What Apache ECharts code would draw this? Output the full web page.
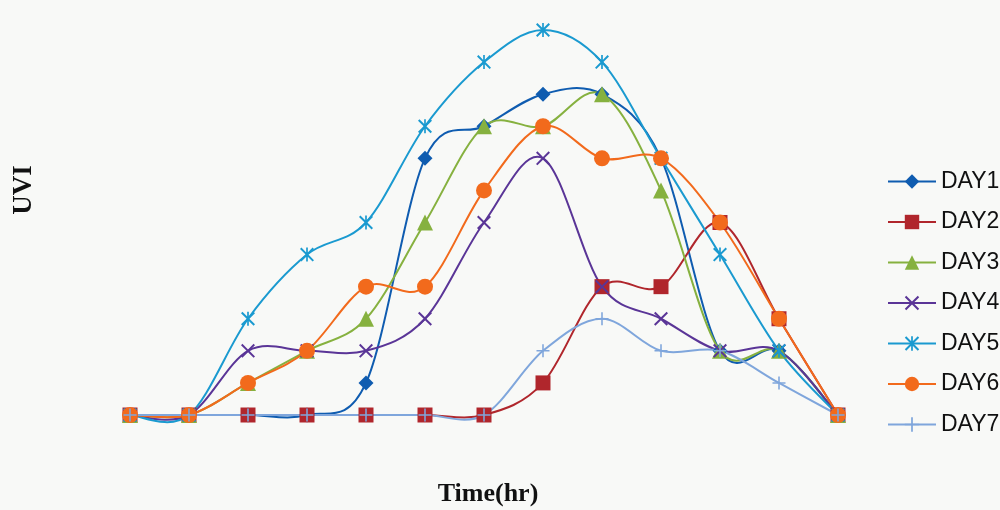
<!DOCTYPE html>
<html><head><meta charset="utf-8">
<script src="https://cdn.jsdelivr.net/npm/echarts@6/dist/echarts.min.js"></script>
<style>html,body{margin:0;padding:0;background:#f8f9f7}#c{width:1000px;height:510px}</style>
</head><body><div id="c"></div>
<script>
const hours = ['1','2','3','4','5','6','7','8','9','10','11','12','13'];
const day1 = [0,0,0,0,1,8,9,10,10,8,2,2,0];
const day2 = [0,0,0,0,0,0,0,1,4,4,6,3,0];
const day3 = [0,0,1,2,3,6,9,9,10,7,2,2,0];
const day4 = [0,0,2,2,2,3,6,8,4,3,2,2,0];
const day5 = [0,0,3,5,6,9,11,12,11,8,5,2,0];
const day6 = [0,0,1,2,4,4,7,9,8,8,6,3,0];
const day7 = [0,0,0,0,0,0,0,2,3,2,2,1,0];
const names = ['DAY1','DAY2','DAY3','DAY4','DAY5','DAY6','DAY7'];
const colors = ['#0f5cb0','#b0262c','#86b13f','#5a3597','#1a9ad0','#f26a1c','#7fa6dc'];
const X = 'path://M1,0L5,4L9,0L10,1L6,5L10,9L9,10L5,6L1,10L0,9L4,5L0,1Z';
const AST = 'path://M1,0L5,4L9,0L10,1L6,5L10,9L9,10L5,6L1,10L0,9L4,5L0,1Z M4.4,0H5.6V10H4.4Z';
const PLUS = 'path://M4.4,0H5.6V4.4H10V5.6H5.6V10H4.4V5.6H0V4.4H4.4Z';
const symbols = ['diamond','rect','triangle',X,AST,'circle',PLUS];
const sizes = [15,15,16,14,14,16,13];
const data = [day1,day2,day3,day4,day5,day6,day7];

function makeRender(arr, color){
  const n = arr.length;
  return function(params, api){
    const i = params.dataIndex;
    if (i >= n - 1) return null;
    const P = k => { const j = Math.max(0, Math.min(n - 1, k)); return api.coord([j, arr[j]]); };
    const p0 = P(i - 1), p1 = P(i), p2 = P(i + 1), p3 = P(i + 2);
    const t = 1 / 6;
    return {
      type: 'bezierCurve',
      shape: {
        x1: p1[0], y1: p1[1], x2: p2[0], y2: p2[1],
        cpx1: p1[0] + (p2[0] - p0[0]) * t, cpy1: p1[1] + (p2[1] - p0[1]) * t,
        cpx2: p2[0] - (p3[0] - p1[0]) * t, cpy2: p2[1] - (p3[1] - p1[1]) * t
      },
      style: { stroke: color, lineWidth: 2, fill: null }
    };
  };
}

const lineSeries = names.map((n, i) => ({
  name: n, type: 'line', data: data[i], z: 3,
  symbol: symbols[i], symbolSize: sizes[i],
  itemStyle: { color: colors[i] },
  lineStyle: { color: colors[i], width: 2, opacity: 0 }
}));
const curveSeries = names.map((n, i) => ({
  name: n, type: 'custom', z: 2, silent: true,
  data: data[i].map((v, k) => [k, v]),
  encode: { x: 0, y: 1 },
  renderItem: makeRender(data[i], colors[i])
}));

const chart = echarts.init(document.getElementById('c'));
chart.setOption({
  backgroundColor: '#f8f9f7',
  animation: false,
  grid: { left: 130, right: 162, top: 30, bottom: 95 },
  xAxis: { type: 'category', data: hours, boundaryGap: false, show: false },
  yAxis: { type: 'value', min: 0, max: 12, show: false },
  legend: {
    orient: 'vertical', left: 887, top: 170, padding: 0,
    itemWidth: 48, itemHeight: 18, itemGap: 17.5,
    lineStyle: { opacity: 1, width: 2 },
    textStyle: { fontSize: 23, color: '#111', fontFamily: 'Liberation Sans, Arial' },
    data: names
  },
  graphic: [
    { type: 'text', x: 488, y: 494, style: { text: 'Time(hr)', align: 'center', verticalAlign: 'middle', font: 'bold 26px "Liberation Serif", "Times New Roman", serif', fill: '#111' } },
    { type: 'text', x: 24, y: 190, rotation: Math.PI / 2, style: { text: 'UVI', align: 'center', verticalAlign: 'middle', font: 'bold 27px "Liberation Serif", "Times New Roman", serif', fill: '#111' } }
  ],
  series: lineSeries.concat(curveSeries)
});
</script></body></html>
